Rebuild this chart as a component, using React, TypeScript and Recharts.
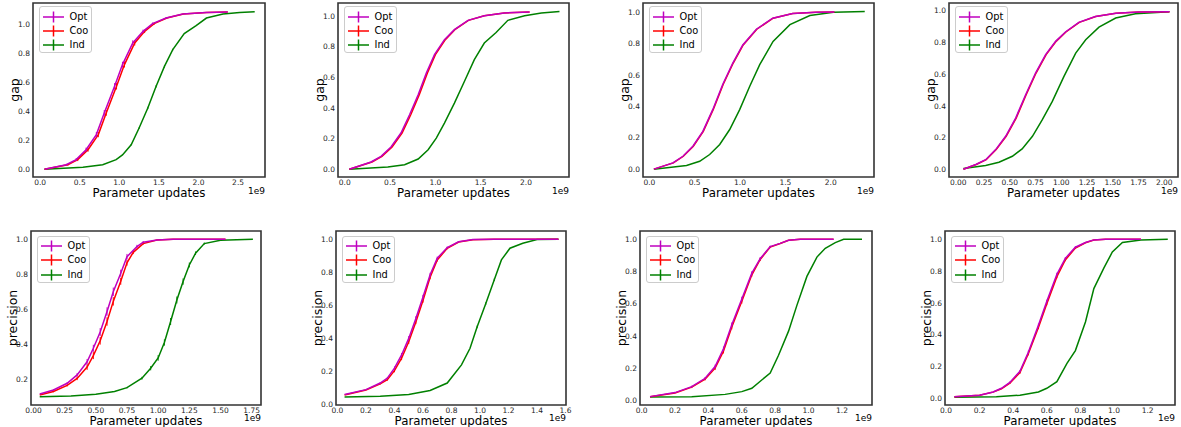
import React from 'react';
import { LineChart, Line, XAxis, YAxis, ReferenceArea, Label, ErrorBar } from 'recharts';

const FONT = "'DejaVu Sans', 'Liberation Sans', sans-serif";
const OPT_COLOR = '#bf00bf';
const COO_COLOR = '#ff0000';
const IND_COLOR = '#008000';
const seriesNames = ['Opt', 'Coo', 'Ind'];
const xAxisTitle = 'Parameter updates';
const xScaleText = '1e9';

// [x (1e9 updates), value, optional error half-width]
type Pt = [number, number, number?];

// ---- top row: gap ----
const gap1Opt: Pt[] = [[0.055, 0], [0.33, 0.032, 0.006], [0.455, 0.067, 0.01], [0.58, 0.136, 0.014], [0.71, 0.24, 0.018], [0.81, 0.39, 0.02], [0.94, 0.574, 0.022], [1.04, 0.724, 0.02], [1.17, 0.874, 0.018], [1.3, 0.954, 0.012], [1.42, 1.007, 0.008], [1.59, 1.046, 0.004], [1.8, 1.074], [2.1, 1.085], [2.37, 1.088]];
const gap1Coo: Pt[] = [[0.055, 0], [0.35, 0.032, 0.006], [0.475, 0.067, 0.01], [0.605, 0.136, 0.014], [0.735, 0.24, 0.018], [0.835, 0.39, 0.02], [0.965, 0.574, 0.022], [1.065, 0.724, 0.02], [1.195, 0.874, 0.018], [1.32, 0.954, 0.012], [1.44, 1.007, 0.008], [1.6, 1.046, 0.004], [1.81, 1.074], [2.1, 1.085], [2.37, 1.088]];
const gap1Ind: Pt[] = [[0.055, 0], [0.54, 0.014], [0.79, 0.032], [0.96, 0.067], [1.04, 0.1], [1.15, 0.17, 0.004], [1.25, 0.286, 0.006], [1.36, 0.424, 0.008], [1.465, 0.574, 0.008], [1.57, 0.712, 0.008], [1.675, 0.828, 0.006], [1.82, 0.938], [1.97, 0.993], [2.1, 1.046], [2.31, 1.074], [2.52, 1.085], [2.71, 1.09]];

const gap2Opt: Pt[] = [[0.05, 0], [0.29, 0.048], [0.4, 0.085], [0.51, 0.146], [0.62, 0.237], [0.715, 0.356], [0.81, 0.487], [0.9, 0.628], [0.99, 0.748], [1.1, 0.846], [1.21, 0.911], [1.36, 0.972], [1.54, 1.002], [1.76, 1.02], [2.04, 1.026]];
const gap2Coo: Pt[] = [[0.05, 0], [0.3, 0.048], [0.41, 0.085], [0.522, 0.146], [0.632, 0.237], [0.728, 0.356], [0.822, 0.487], [0.912, 0.628], [1.0, 0.748], [1.11, 0.846], [1.215, 0.911], [1.365, 0.972], [1.54, 1.002], [1.76, 1.02], [2.04, 1.026]];
const gap2Ind: Pt[] = [[0.05, 0], [0.475, 0.015], [0.66, 0.03], [0.81, 0.067], [0.92, 0.128], [1.01, 0.204], [1.1, 0.302], [1.21, 0.432], [1.32, 0.573], [1.43, 0.715], [1.54, 0.824], [1.67, 0.893], [1.8, 0.972], [1.985, 1.002], [2.17, 1.02], [2.37, 1.03]];

const gap3Opt: Pt[] = [[0.05, 0], [0.26, 0.04], [0.37, 0.082], [0.48, 0.146], [0.59, 0.24], [0.7, 0.38], [0.81, 0.54], [0.92, 0.675], [1.03, 0.79], [1.18, 0.89], [1.36, 0.96], [1.58, 0.99], [1.84, 0.998], [2.04, 1.0]];
const gap3Coo: Pt[] = [[0.05, 0], [0.265, 0.04], [0.375, 0.082], [0.485, 0.146], [0.595, 0.24], [0.705, 0.38], [0.815, 0.54], [0.925, 0.675], [1.035, 0.79], [1.185, 0.89], [1.365, 0.96], [1.58, 0.99], [1.84, 0.998], [2.04, 1.0]];
const gap3Ind: Pt[] = [[0.05, 0], [0.41, 0.023], [0.555, 0.05], [0.665, 0.093], [0.776, 0.157], [0.886, 0.252], [0.996, 0.379], [1.107, 0.527], [1.217, 0.665], [1.364, 0.813], [1.55, 0.919], [1.77, 0.977], [2.03, 0.998], [2.375, 1.003]];

const gap4Opt: Pt[] = [[0.05, 0], [0.17, 0.03], [0.266, 0.06], [0.363, 0.124], [0.46, 0.208], [0.557, 0.323], [0.654, 0.47], [0.75, 0.607], [0.848, 0.723], [0.945, 0.807], [1.04, 0.866], [1.17, 0.927], [1.33, 0.964], [1.53, 0.985], [1.755, 0.992], [2.05, 0.994]];
const gap4Coo: Pt[] = [[0.05, 0], [0.175, 0.03], [0.271, 0.06], [0.368, 0.124], [0.465, 0.208], [0.562, 0.323], [0.659, 0.47], [0.755, 0.607], [0.853, 0.723], [0.95, 0.807], [1.045, 0.866], [1.175, 0.927], [1.335, 0.964], [1.53, 0.985], [1.755, 0.992], [2.05, 0.994]];
const gap4Ind: Pt[] = [[0.05, 0.004], [0.266, 0.023], [0.395, 0.044], [0.525, 0.082], [0.62, 0.128], [0.72, 0.208], [0.816, 0.313], [0.913, 0.428], [1.026, 0.586], [1.14, 0.733], [1.237, 0.817], [1.366, 0.897], [1.528, 0.954], [1.72, 0.981], [2.05, 0.994]];

// ---- bottom row: precision ----
const prec1Opt: Pt[] = [[0.05, 0.116], [0.16, 0.139, 0.004], [0.27, 0.177, 0.006], [0.35, 0.225, 0.01], [0.43, 0.3, 0.016], [0.48, 0.377, 0.02], [0.535, 0.47, 0.022], [0.59, 0.587, 0.024], [0.64, 0.7, 0.024], [0.7, 0.806, 0.02], [0.75, 0.9, 0.016], [0.83, 0.958, 0.01], [0.88, 0.983, 0.006], [0.99, 0.996], [1.12, 1.0], [1.54, 1.0]];
const prec1Coo: Pt[] = [[0.05, 0.11], [0.16, 0.13, 0.004], [0.27, 0.165, 0.006], [0.35, 0.205, 0.01], [0.43, 0.27, 0.016], [0.48, 0.335, 0.02], [0.535, 0.42, 0.022], [0.59, 0.53, 0.024], [0.64, 0.645, 0.024], [0.7, 0.76, 0.02], [0.75, 0.865, 0.016], [0.8, 0.925, 0.01], [0.88, 0.975, 0.006], [0.99, 0.995], [1.12, 1.0], [1.54, 1.0]];
const prec1Ind: Pt[] = [[0.05, 0.1], [0.3, 0.105], [0.5, 0.114], [0.65, 0.13], [0.75, 0.152, 0.004], [0.87, 0.206, 0.008], [0.94, 0.263, 0.012], [1.0, 0.322, 0.016], [1.05, 0.41, 0.018], [1.1, 0.53, 0.02], [1.15, 0.653, 0.02], [1.2, 0.758, 0.018], [1.25, 0.853, 0.014], [1.3, 0.92, 0.01], [1.37, 0.975, 0.006], [1.5, 0.994], [1.76, 1.0]];

const prec2Opt: Pt[] = [[0.05, 0.06], [0.2, 0.09], [0.3, 0.13, 0.004], [0.35, 0.16, 0.006], [0.4, 0.22, 0.01], [0.45, 0.3, 0.012], [0.5, 0.4, 0.014], [0.55, 0.52, 0.014], [0.6, 0.65, 0.014], [0.65, 0.785, 0.012], [0.7, 0.885, 0.01], [0.77, 0.95, 0.006], [0.85, 0.985], [0.95, 0.998], [1.1, 1.0], [1.55, 1.0]];
const prec2Coo: Pt[] = [[0.05, 0.058], [0.2, 0.088], [0.3, 0.125, 0.004], [0.35, 0.15, 0.006], [0.4, 0.205, 0.01], [0.45, 0.28, 0.012], [0.5, 0.38, 0.014], [0.55, 0.5, 0.014], [0.6, 0.63, 0.014], [0.65, 0.77, 0.012], [0.7, 0.875, 0.01], [0.77, 0.945, 0.006], [0.85, 0.983], [0.95, 0.997], [1.1, 1.0], [1.55, 1.0]];
const prec2Ind: Pt[] = [[0.05, 0.046], [0.3, 0.05], [0.5, 0.06], [0.65, 0.085], [0.77, 0.13], [0.87, 0.24], [0.93, 0.34], [0.98, 0.47, 0.008], [1.04, 0.61, 0.008], [1.1, 0.755, 0.008], [1.15, 0.875], [1.21, 0.946], [1.3, 0.976], [1.4, 0.998], [1.55, 1.0]];

const prec3Opt: Pt[] = [[0.05, 0.023], [0.2, 0.048], [0.3, 0.085, 0.006], [0.38, 0.137, 0.008], [0.44, 0.21, 0.012], [0.49, 0.32, 0.014], [0.54, 0.47, 0.014], [0.6, 0.63, 0.014], [0.66, 0.79, 0.012], [0.71, 0.88, 0.01], [0.77, 0.955, 0.006], [0.83, 0.975], [0.88, 0.994], [0.95, 1.0], [1.15, 1.0]];
const prec3Coo: Pt[] = [[0.05, 0.022], [0.2, 0.046], [0.3, 0.082, 0.006], [0.38, 0.132, 0.008], [0.44, 0.2, 0.012], [0.49, 0.305, 0.014], [0.54, 0.455, 0.014], [0.6, 0.615, 0.014], [0.66, 0.78, 0.012], [0.71, 0.875, 0.01], [0.77, 0.952, 0.006], [0.83, 0.974], [0.88, 0.994], [0.95, 1.0], [1.15, 1.0]];
const prec3Ind: Pt[] = [[0.05, 0.02], [0.3, 0.023], [0.5, 0.037], [0.6, 0.054], [0.66, 0.075], [0.77, 0.17], [0.82, 0.28], [0.88, 0.43], [0.93, 0.59], [0.99, 0.77], [1.05, 0.89], [1.1, 0.945], [1.16, 0.98], [1.21, 1.0], [1.32, 1.0]];

const prec4Opt: Pt[] = [[0.05, 0.01], [0.2, 0.02], [0.28, 0.04], [0.33, 0.063], [0.38, 0.1, 0.006], [0.44, 0.17, 0.008], [0.49, 0.29, 0.01], [0.55, 0.46, 0.01], [0.6, 0.61, 0.01], [0.66, 0.78, 0.01], [0.71, 0.88, 0.008], [0.77, 0.95, 0.006], [0.83, 0.98], [0.88, 0.996], [0.95, 1.0], [1.16, 1.0]];
const prec4Coo: Pt[] = [[0.05, 0.01], [0.2, 0.02], [0.28, 0.039], [0.33, 0.06], [0.38, 0.096, 0.006], [0.44, 0.162, 0.008], [0.49, 0.28, 0.01], [0.55, 0.445, 0.01], [0.6, 0.595, 0.01], [0.66, 0.765, 0.01], [0.71, 0.87, 0.008], [0.77, 0.945, 0.006], [0.83, 0.978], [0.88, 0.995], [0.95, 1.0], [1.16, 1.0]];
const prec4Ind: Pt[] = [[0.05, 0.006], [0.3, 0.01], [0.44, 0.02], [0.55, 0.04], [0.6, 0.063], [0.66, 0.105], [0.72, 0.22], [0.77, 0.3], [0.83, 0.48], [0.88, 0.69], [0.94, 0.82], [0.99, 0.92], [1.05, 0.98], [1.16, 0.996], [1.32, 1.0]];

// ---- tick labels ----
const yTicksGap = [0, 0.2, 0.4, 0.6, 0.8, 1.0];
const yTicksPrecA = [0.2, 0.4, 0.6, 0.8, 1.0];
const yTicksPrecB = [0, 0.2, 0.4, 0.6, 0.8, 1.0];
const xTicks25 = [0, 0.5, 1.0, 1.5, 2.0, 2.5];
const xTicks20 = [0, 0.5, 1.0, 1.5, 2.0];
const xTicksQuarter20 = [0, 0.25, 0.5, 0.75, 1.0, 1.25, 1.5, 1.75, 2.0];
const xTicksQuarter175 = [0, 0.25, 0.5, 0.75, 1.0, 1.25, 1.5, 1.75];
const xTicks16 = [0, 0.2, 0.4, 0.6, 0.8, 1.0, 1.2, 1.4, 1.6];
const xTicks12 = [0, 0.2, 0.4, 0.6, 0.8, 1.0, 1.2];

const toRows = (pts: Pt[]) => pts.map(([x, y, e]) => ({ x, y, e: e ?? 0 }));

const COL_X = [0, 295, 590, 885];
const COL_W = [295, 295, 295, 296];
const ROW_Y = [0, 214];
const ROW_H = [214, 213];

type Spec = {
  col: number; row: number;
  plot: [number, number, number, number];
  xDomain: [number, number]; yDomain: [number, number];
  xTicks: number[]; yTicks: number[]; xDec: number;
  yLabel: string; opt: Pt[]; coo: Pt[]; ind: Pt[];
};

const panels: Spec[] = [
  { col: 0, row: 0, plot: [33, 3, 265, 177], xDomain: [-0.09, 2.84], yDomain: [-0.053, 1.15], xTicks: xTicks25, yTicks: yTicksGap, xDec: 1, yLabel: 'gap', opt: gap1Opt, coo: gap1Coo, ind: gap1Ind },
  { col: 1, row: 0, plot: [338, 3, 569, 177], xDomain: [-0.075, 2.475], yDomain: [-0.05, 1.085], xTicks: xTicks20, yTicks: yTicksGap, xDec: 1, yLabel: 'gap', opt: gap2Opt, coo: gap2Coo, ind: gap2Ind },
  { col: 2, row: 0, plot: [643, 3, 874, 177], xDomain: [-0.07, 2.477], yDomain: [-0.05, 1.057], xTicks: xTicks20, yTicks: yTicksGap, xDec: 1, yLabel: 'gap', opt: gap3Opt, coo: gap3Coo, ind: gap3Ind },
  { col: 3, row: 0, plot: [949, 3, 1178, 177], xDomain: [-0.09, 2.133], yDomain: [-0.049, 1.049], xTicks: xTicksQuarter20, yTicks: yTicksGap, xDec: 2, yLabel: 'gap', opt: gap4Opt, coo: gap4Coo, ind: gap4Ind },
  { col: 0, row: 1, plot: [31, 231, 261, 405], xDomain: [-0.02, 1.825], yDomain: [0.053, 1.047], xTicks: xTicksQuarter175, yTicks: yTicksPrecA, xDec: 2, yLabel: 'precision', opt: prec1Opt, coo: prec1Coo, ind: prec1Ind },
  { col: 1, row: 1, plot: [336, 231, 566, 405], xDomain: [-0.01, 1.603], yDomain: [-0.003, 1.05], xTicks: xTicks16, yTicks: yTicksPrecB, xDec: 1, yLabel: 'precision', opt: prec2Opt, coo: prec2Coo, ind: prec2Ind },
  { col: 2, row: 1, plot: [640, 231, 872, 405], xDomain: [-0.01, 1.38], yDomain: [-0.029, 1.052], xTicks: xTicks12, yTicks: yTicksPrecB, xDec: 1, yLabel: 'precision', opt: prec3Opt, coo: prec3Coo, ind: prec3Ind },
  { col: 3, row: 1, plot: [945, 231, 1175, 405], xDomain: [-0.006, 1.363], yDomain: [-0.042, 1.052], xTicks: xTicks12, yTicks: yTicksPrecB, xDec: 1, yLabel: 'precision', opt: prec4Opt, coo: prec4Coo, ind: prec4Ind },
];

const legendColors = [OPT_COLOR, COO_COLOR, IND_COLOR];

function LegendBox({ left, top }: { left: number; top: number }) {
  return (
    <div style={{ position: 'absolute', left, top, width: 53, height: 47, border: '1px solid #cccccc', borderRadius: 3, background: 'rgba(255,255,255,0.8)', boxSizing: 'border-box' }}>
      {seriesNames.map((name, i) => (
        <div key={name} style={{ position: 'absolute', left: 0, top: 2.5 + i * 14.3, height: 14, width: 52 }}>
          <svg width={26} height={14} style={{ position: 'absolute', left: 2, top: 0 }}>
            <line x1={1} x2={22} y1={7} y2={7} stroke={legendColors[i]} strokeWidth={1.5} />
            <line x1={11.5} x2={11.5} y1={1.5} y2={12.5} stroke={legendColors[i]} strokeWidth={1.5} />
          </svg>
          <span style={{ position: 'absolute', left: 30, top: 0, lineHeight: '14px', fontSize: 9.8, fontFamily: FONT, color: '#000' }}>{name}</span>
        </div>
      ))}
    </div>
  );
}

function Series({ pts, name, color }: { pts: Pt[]; name: string; color: string }) {
  return null;
}

function Panel({ spec }: { spec: Spec }) {
  const { col, row, plot, xDomain, yDomain, xTicks, yTicks, xDec, yLabel, opt, coo, ind } = spec;
  const [L, T, R, B] = plot;
  const cx = COL_X[col];
  const cw = COL_W[col];
  const ry = ROW_Y[row];
  const rh = ROW_H[row];
  const YW = 30;
  const XH = 20;
  const margin = { left: L - cx - YW, right: cx + cw - R, top: T - ry, bottom: ry + rh - B - XH };
  const lx = L - cx, rx = R - cx, ty = T - ry, by = B - ry;
  const scaleBase = row === 0 ? 17 : 16;
  const titleBase = 19.5;
  const tickBase = row === 0 ? 8.4 : 7.8;
  return (
    <div style={{ position: 'absolute', left: cx, top: ry, width: cw, height: rh }}>
      <LineChart width={cw} height={rh} margin={margin}>
        <XAxis
          type="number"
          dataKey="x"
          domain={xDomain}
          allowDataOverflow
          ticks={xTicks}
          interval={0}
          height={XH}
          axisLine={false}
          tickLine={false}
          tickSize={0}
          tickMargin={0}
          tick={(p: any) => (
            <text x={p.x} y={p.y + tickBase} textAnchor="middle" fontSize={7.5} fontFamily={FONT} fill="#262626">
              {Number(p.payload.value).toFixed(xDec)}
            </text>
          )}
        >
          <Label
            content={() => (
              <g>
                <text x={(lx + rx) / 2} y={by + titleBase} textAnchor="middle" fontSize={11.8} fontFamily={FONT} fill="#000">{xAxisTitle}</text>
                <text x={rx} y={by + scaleBase} textAnchor="end" fontSize={9} fontFamily={FONT} fill="#000">{xScaleText}</text>
              </g>
            )}
          />
        </XAxis>
        <YAxis
          type="number"
          domain={yDomain}
          allowDataOverflow
          ticks={yTicks}
          interval={0}
          width={YW}
          axisLine={false}
          tickLine={false}
          tickSize={0}
          tickMargin={0}
          tick={(p: any) => (
            <text x={p.x - 3} y={p.y + 2.7} textAnchor="end" fontSize={7.5} fontFamily={FONT} fill="#262626">
              {Number(p.payload.value).toFixed(1)}
            </text>
          )}
        >
          <Label
            content={() => (
              <text
                x={lx - 19}
                y={(ty + by) / 2}
                transform={`rotate(-90 ${lx - 19} ${(ty + by) / 2})`}
                textAnchor="middle"
                dominantBaseline="central"
                fontSize={12.5}
                fontFamily={FONT}
                fill="#000"
              >
                {yLabel}
              </text>
            )}
          />
        </YAxis>
        <Line data={toRows(ind)} dataKey="y" name="Ind" type="linear" stroke={IND_COLOR} strokeWidth={1.5} dot={false} isAnimationActive={false}>
          <ErrorBar dataKey="e" direction="y" width={0} stroke={IND_COLOR} strokeWidth={1} isAnimationActive={false} />
        </Line>
        <Line data={toRows(coo)} dataKey="y" name="Coo" type="linear" stroke={COO_COLOR} strokeWidth={1.5} dot={false} isAnimationActive={false}>
          <ErrorBar dataKey="e" direction="y" width={0} stroke={COO_COLOR} strokeWidth={1} isAnimationActive={false} />
        </Line>
        <Line data={toRows(opt)} dataKey="y" name="Opt" type="linear" stroke={OPT_COLOR} strokeWidth={1.5} dot={false} isAnimationActive={false}>
          <ErrorBar dataKey="e" direction="y" width={0} stroke={OPT_COLOR} strokeWidth={1} isAnimationActive={false} />
        </Line>
        <ReferenceArea x1={xDomain[0]} x2={xDomain[1]} y1={yDomain[0]} y2={yDomain[1]} fill="none" fillOpacity={0} stroke="#333333" strokeWidth={1.6} ifOverflow="visible" />
      </LineChart>
      <LegendBox left={lx + 5.5} top={ty + (row === 0 ? 3 : 4.5)} />
    </div>
  );
}

export default function App() {
  return (
    <div style={{ position: 'absolute', left: 0, top: 0, width: 1181, height: 427, background: '#fff', overflow: 'hidden' }}>
      {panels.map((s, i) => (
        <Panel key={i} spec={s} />
      ))}
    </div>
  );
}
